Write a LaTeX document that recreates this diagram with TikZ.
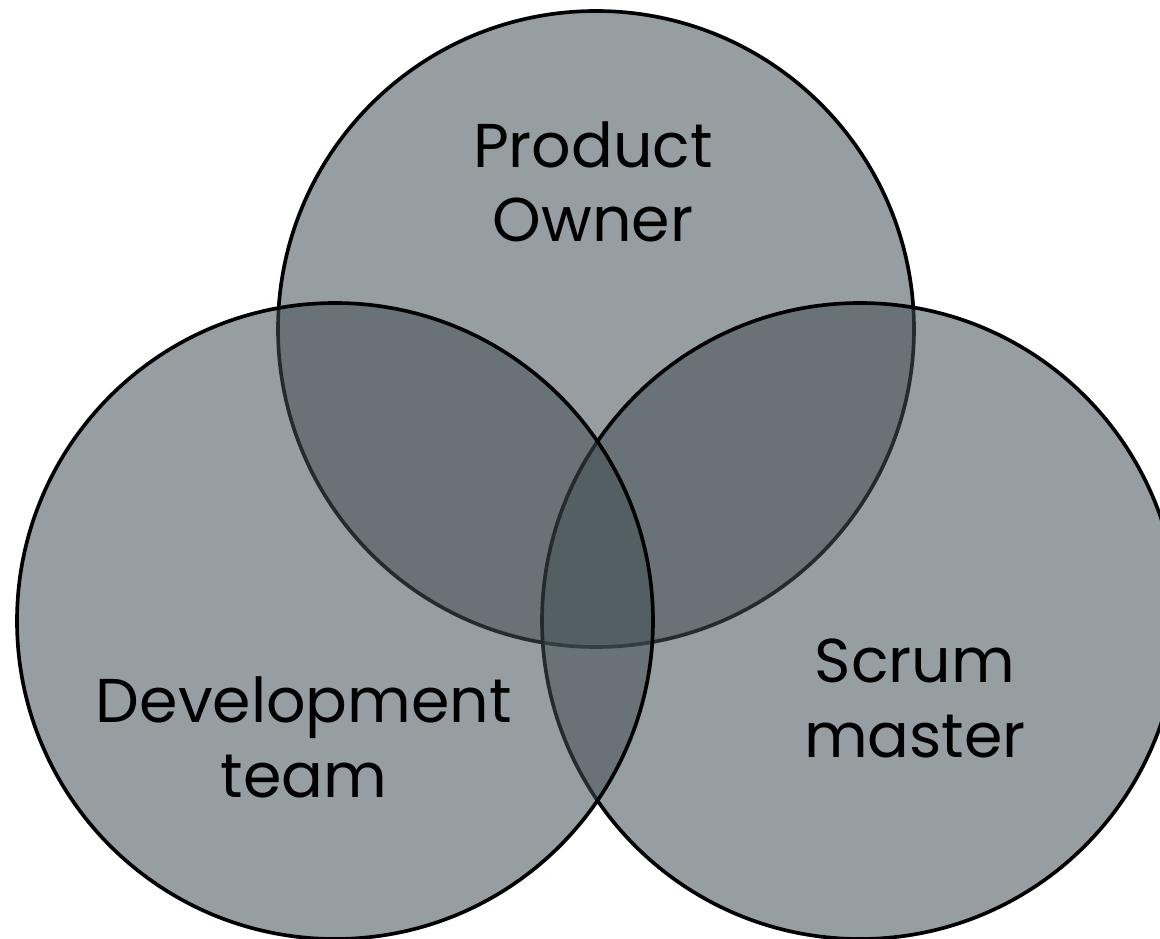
\documentclass[tikz,border=0pt]{standalone}
\usepackage{fontspec}
\setmainfont{Poppins}
\usetikzlibrary{positioning}
\usepackage{color}
\definecolor{slate}{RGB}{66, 79, 84}

\begin{document}
\begin{tikzpicture}[x=0.025cm, y=-0.025cm,
    role/.style={draw=black, fill=slate, fill opacity=0.55, line width=2.6pt},
    rolename/.style={align=center, anchor=base, inner sep=0pt, font=\fontsize{44}{53}\selectfont}]
            \useasboundingbox                                            (   0,   0) rectangle (1160, 939);
            \filldraw[role]                                               ( 596, 329) circle    (318);
            \filldraw[role]                                               ( 860, 621) circle    (318);
            \filldraw[role]                                               ( 335, 621) circle    (318);
            % base anchor sits on the last line
            \node[rolename] (owner)  at ( 593, 242) {Product\\Owner};
            \node[rolename] (devteam) at ( 304, 797) {Development\\team};
            \node[rolename] (scrum)  at ( 915, 757) {Scrum\\master};
        \end{tikzpicture}
\end{document}
